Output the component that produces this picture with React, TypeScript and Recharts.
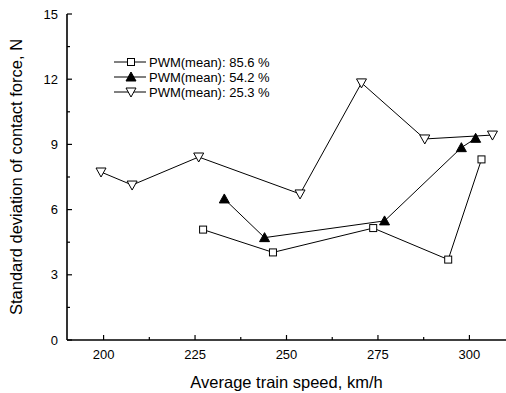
import React from "react";
import { LineChart, Line, XAxis, YAxis, Legend } from "recharts";

const speedA = [227.2, 246.3, 273.7, 294.2, 303.3];
const forceA = [5.08, 4.03, 5.15, 3.7, 8.31];
const speedB = [233.0, 244.0, 276.8, 297.8, 301.7];
const forceB = [6.49, 4.71, 5.48, 8.85, 9.28];
const speedC = [199.3, 207.8, 226.0, 253.7, 270.5, 287.8, 306.3];
const forceC = [7.73, 7.13, 8.42, 6.72, 11.83, 9.25, 9.43];

const seriesNames = ["PWM(mean): 85.6 %", "PWM(mean): 54.2 %", "PWM(mean): 25.3 %"];
const xTicks = [200, 212.5, 225, 237.5, 250, 262.5, 275, 287.5, 300];
const xMajor = [200, 225, 250, 275, 300];
const yTicks = [0, 1.5, 3, 4.5, 6, 7.5, 9, 10.5, 12, 13.5, 15];
const yMajor = [0, 3, 6, 9, 12, 15];

const toRows = (xs: number[], ys: number[]) => xs.map((x, i) => ({ x, y: ys[i] }));
const dataA = toRows(speedA, forceA);
const dataB = toRows(speedB, forceB);
const dataC = toRows(speedC, forceC);

const FONT = "'Liberation Sans', Arial, sans-serif";

const Square = ({ cx, cy }: any) => (
  <rect x={cx - 3.5} y={cy - 3.5} width={7} height={7} fill="#fff" stroke="#000" strokeWidth={1} />
);
const TriUp = ({ cx, cy }: any) => (
  <polygon points={`${cx},${cy - 5} ${cx - 5},${cy + 4} ${cx + 5},${cy + 4}`} fill="#000" stroke="#000" strokeWidth={1} />
);
const TriDown = ({ cx, cy }: any) => (
  <polygon points={`${cx - 5},${cy - 4} ${cx + 5},${cy - 4} ${cx},${cy + 5}`} fill="#fff" stroke="#000" strokeWidth={1} />
);

const XTick = ({ x, y, payload }: any) => {
  const major = xMajor.includes(payload.value);
  return (
    <g>
      <line x1={x} x2={x} y1={y} y2={y - (major ? 5 : 3)} stroke="#000" strokeWidth={1.2} />
      {major && (
        <text x={x} y={y + 18.5} textAnchor="middle" fontSize={13} fontFamily={FONT} fill="#000">
          {payload.value}
        </text>
      )}
    </g>
  );
};

const YTick = ({ x, y, payload }: any) => {
  const major = yMajor.includes(payload.value);
  return (
    <g>
      <line x1={x} x2={x + (major ? 5 : 3)} y1={y} y2={y} stroke="#000" strokeWidth={1.2} />
      {major && (
        <text x={x - 9} y={y + 4.5} textAnchor="end" fontSize={13} fontFamily={FONT} fill="#000">
          {payload.value}
        </text>
      )}
    </g>
  );
};

const markers = [Square, TriUp, TriDown];

const LegendContent = () => (
  <svg width={200} height={50} style={{ overflow: "visible" }}>
    {seriesNames.map((name, i) => {
      const M = markers[i];
      const cy = 8 + i * 15;
      return (
        <g key={name}>
          <line x1={0} x2={32} y1={cy} y2={cy} stroke={i === 1 ? "#555" : "#000"} strokeWidth={i === 1 ? 1.5 : 1} />
          <M cx={17} cy={cy} />
          <text x={35} y={cy + 4.5} fontSize={13} fontFamily={FONT} fill="#000">
            {name}
          </text>
        </g>
      );
    })}
  </svg>
);

export default function App() {
  return (
    <div style={{ position: "absolute", left: 0, top: 0, width: 506, height: 393, background: "#fff" }}>
      <LineChart width={506} height={393} margin={{ top: 14, right: 0, left: 0, bottom: 0 }}>
        <XAxis
          dataKey="x"
          type="number"
          domain={[190, 310]}
          ticks={xTicks}
          interval={0}
          tick={<XTick />}
          tickLine={false}
          tickSize={0}
          tickMargin={0}
          axisLine={{ stroke: "#000", strokeWidth: 1.6 }}
          height={53}
          allowDataOverflow
          label={{ value: "Average train speed, km/h", position: "insideBottom", offset: 5, fontSize: 16.5, fontFamily: FONT, fill: "#000" }}
        />
        <XAxis
          xAxisId="top"
          orientation="top"
          type="number"
          domain={[190, 310]}
          tick={false}
          tickLine={false}
          height={0}
          axisLine={{ stroke: "#000", strokeWidth: 1.6 }}
        />
        <YAxis
          type="number"
          domain={[0, 15]}
          ticks={yTicks}
          interval={0}
          tick={<YTick />}
          tickLine={false}
          tickSize={0}
          tickMargin={0}
          width={67}
          axisLine={{ stroke: "#000", strokeWidth: 1.6 }}
          label={{ value: "Standard deviation of contact force, N", angle: -90, position: "insideLeft", offset: 16, style: { textAnchor: "middle" }, fontSize: 16.5, fontFamily: FONT, fill: "#000" }}
        />
        <Legend
          layout="vertical"
          align="center"
          verticalAlign="middle"
          content={<LegendContent />}
          wrapperStyle={{ position: "absolute", left: 114, top: 54, width: 200, height: 50 }}
        />
        <Line data={dataA} dataKey="y" name={seriesNames[0]} stroke="#000" strokeWidth={1} dot={<Square />} isAnimationActive={false} />
        <Line data={dataB} dataKey="y" name={seriesNames[1]} stroke="#000" strokeWidth={1} dot={<TriUp />} isAnimationActive={false} />
        <Line data={dataC} dataKey="y" name={seriesNames[2]} stroke="#000" strokeWidth={1} dot={<TriDown />} isAnimationActive={false} />
      </LineChart>
    </div>
  );
}
